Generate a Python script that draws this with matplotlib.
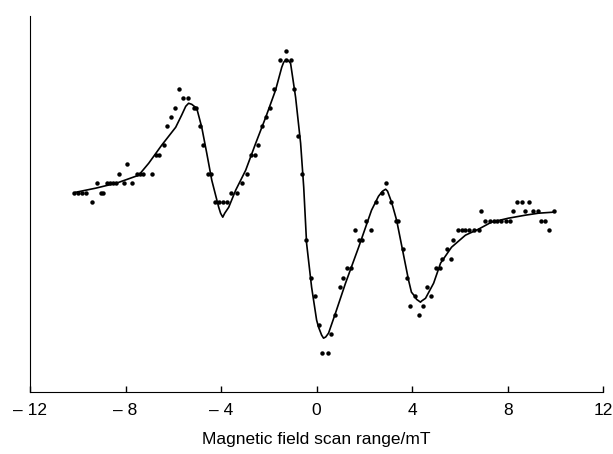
import numpy as np
import matplotlib.pyplot as plt

plt.rcParams['font.family'] = ['Liberation Sans', 'DejaVu Sans']

# measured spectrum points (field in mT, signal in digitiser steps)
field = [-10.17, -10.00, -9.83, -9.67, -9.41, -9.21, -9.04, -8.95, -8.79, -8.66,
         -8.54, -8.41, -8.28, -8.08, -7.95, -7.74, -7.53, -7.41, -7.28, -6.90,
         -6.74, -6.61, -6.40, -6.28, -6.11, -5.94, -5.77, -5.61, -5.40, -5.15,
         -5.06, -4.90, -4.77, -4.56, -4.44, -4.27, -4.10, -3.93, -3.77, -3.60,
         -3.35, -3.14, -2.93, -2.76, -2.59, -2.47, -2.30, -2.13, -1.97, -1.80,
         -1.55, -1.30, -1.09, -1.30, -0.96, -0.79, -0.63, -0.46, -0.25, -0.08,
         0.08, 0.21, 0.46, 0.59, 0.75, 0.96, 1.09, 1.26, 1.42, 1.59,
         1.76, 1.88, 2.05, 2.26, 2.47, 2.72, 2.89, 3.10, 3.31, 3.39,
         3.60, 3.77, 3.93, 4.14, 4.27, 4.44, 4.64, 4.81, 4.98, 5.15,
         5.23, 5.44, 5.61, 5.73, 5.90, 6.07, 6.23, 6.40, 6.57, 6.78,
         6.90, 7.07, 7.24, 7.41, 7.57, 7.74, 7.91, 8.08, 8.24, 8.37,
         8.58, 8.74, 8.91, 9.08, 9.25, 9.41, 9.58, 9.75, 9.92]
signal = [1, 1, 1, 1, 0, 2, 1, 1, 2, 2,
          2, 2, 3, 2, 4, 2, 3, 3, 3, 3,
          5, 5, 6, 8, 9, 10, 12, 11, 11, 10,
          10, 8, 6, 3, 3, 0, 0, 0, 0, 1,
          1, 2, 3, 5, 5, 6, 8, 9, 10, 12,
          15, 15, 15, 16, 12, 7, 3, -4, -8, -10,
          -13, -16, -16, -14, -12, -9, -8, -7, -7, -3,
          -4, -4, -2, -3, 0, 1, 2, 0, -2, -2,
          -5, -8, -11, -10, -12, -11, -9, -10, -7, -7,
          -6, -5, -6, -4, -3, -3, -3, -3, -3, -3,
          -1, -2, -2, -2, -2, -2, -2, -2, -1, 0,
          0, -1, 0, -1, -1, -2, -2, -3, -1]

# fitted line
fit_field = [-10.08, -9.25, -8.37, -7.45, -7.03, -6.49, -5.90, -5.65, -5.48, -5.36,
             -5.23, -5.02, -4.81, -4.60, -4.39, -4.10, -4.02, -3.93, -3.85, -3.68,
             -3.39, -2.97, -2.55, -2.13, -1.72, -1.46, -1.38, -1.30, -1.20, -1.09,
             -0.88, -0.67, -0.54, -0.42, -0.21, 0.00, 0.08, 0.21, 0.29, 0.38,
             0.50, 0.79, 1.21, 1.76, 2.30, 2.59, 2.76, 2.89, 2.97, 3.14,
             3.35, 3.60, 3.85, 3.97, 4.14, 4.18, 4.35, 4.39, 4.56, 4.90,
             5.19, 5.65, 6.23, 6.78, 7.32, 8.03, 8.74, 9.29, 9.92]
fit_signal = [1.03, 1.46, 2.00, 2.83, 4.10, 6.00, 7.91, 9.20, 10.13, 10.45,
              10.34, 9.92, 7.91, 5.16, 2.30, -0.56, -1.20, -1.61, -1.20, -0.56,
              1.24, 3.36, 6.22, 8.97, 11.83, 14.26, 14.79, 15.00, 15.00, 14.68,
              11.08, 6.22, 1.56, -4.37, -9.02, -12.51, -13.25, -14.10, -14.42, -14.30,
              -13.89, -11.77, -8.60, -4.79, -0.87, 0.60, 1.14, 1.35, 1.14, -0.03,
              -1.93, -5.11, -8.28, -9.55, -10.08, -10.30, -10.61, -10.50, -10.20, -8.60,
              -6.48, -4.79, -3.52, -2.88, -2.14, -1.72, -1.40, -1.19, -1.08]

ticks = [-12, -8, -4, 0, 4, 8, 12]
tick_labels = ['\u2013 12', '\u2013 8', '\u2013 4', '0', '4', '8', '12']

fig = plt.figure(figsize=(6.13, 4.54), dpi=100)
ax = fig.add_axes([0.049, 0.137, 0.935, 0.828])

ax.plot(fit_field, fit_signal, color='black', lw=1.2, solid_joinstyle='round')
ax.plot(field, signal, 'o', color='black', ms=3.2, mec='none')

ax.set_xlim(-12, 12)
ax.set_ylim(-20.1, 19.7)
ax.set_xticks(ticks)
ax.set_xticklabels(tick_labels)
ax.set_yticks([])
ax.tick_params(axis='x', direction='in', length=4, width=1, pad=8, labelsize=12.5)
ax.spines['top'].set_visible(False)
ax.spines['right'].set_visible(False)
ax.set_xlabel('Magnetic field scan range/mT', fontsize=12.5, labelpad=10)

plt.savefig('out.png', dpi=100)
